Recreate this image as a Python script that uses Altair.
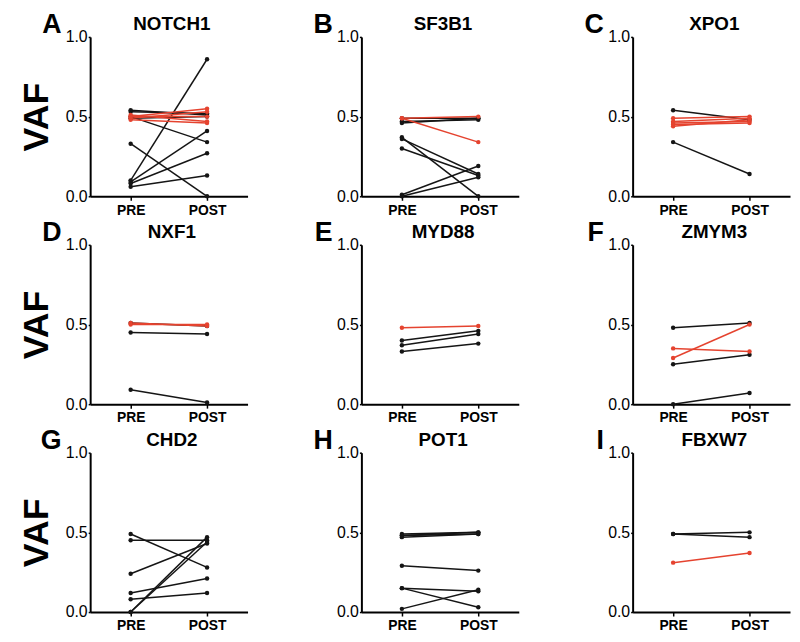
import altair as alt
import pandas as pd

# ---------------- data ----------------
genes = ["NOTCH1", "SF3B1", "XPO1", "NXF1", "MYD88", "ZMYM3", "CHD2", "POT1", "FBXW7"]
letters = ["A", "B", "C", "D", "E", "F", "G", "H", "I"]
timepoints = ["PRE", "POST"]

notch1_pre = [0.54, 0.53, 0.50, 0.49, 0.33, 0.10, 0.09, 0.08, 0.06, 0.50, 0.49, 0.51, 0.48, 0.50]
notch1_post = [0.51, 0.52, 0.34, 0.50, 0.00, 0.86, 0.41, 0.27, 0.13, 0.55, 0.53, 0.47, 0.46, 0.50]
notch1_red = [0, 0, 0, 0, 0, 0, 0, 0, 0, 1, 1, 1, 1, 1]

sf3b1_pre = [0.49, 0.47, 0.46, 0.37, 0.36, 0.30, 0.01, 0.00, 0.49, 0.49]
sf3b1_post = [0.49, 0.48, 0.49, 0.00, 0.14, 0.13, 0.19, 0.12, 0.34, 0.50]
sf3b1_red = [0, 0, 0, 0, 0, 0, 0, 0, 1, 1]

xpo1_pre = [0.54, 0.34, 0.49, 0.47, 0.46, 0.45, 0.44]
xpo1_post = [0.48, 0.14, 0.50, 0.49, 0.47, 0.46, 0.48]
xpo1_red = [0, 0, 1, 1, 1, 1, 1]

nxf1_pre = [0.51, 0.45, 0.09, 0.51, 0.50]
nxf1_post = [0.49, 0.44, 0.01, 0.49, 0.50]
nxf1_red = [0, 0, 0, 1, 1]

myd88_pre = [0.40, 0.37, 0.33, 0.48]
myd88_post = [0.46, 0.44, 0.38, 0.49]
myd88_red = [0, 0, 0, 1]

zmym3_pre = [0.48, 0.25, 0.00, 0.35, 0.29]
zmym3_post = [0.51, 0.31, 0.07, 0.33, 0.50]
zmym3_red = [0, 0, 0, 1, 1]

chd2_pre = [0.49, 0.45, 0.24, 0.12, 0.08, 0.00, 0.00]
chd2_post = [0.28, 0.45, 0.43, 0.21, 0.12, 0.47, 0.44]
chd2_red = [0, 0, 0, 0, 0, 0, 0]

pot1_pre = [0.49, 0.48, 0.47, 0.48, 0.29, 0.15, 0.15, 0.02]
pot1_post = [0.50, 0.49, 0.49, 0.50, 0.26, 0.03, 0.13, 0.14]
pot1_red = [0, 0, 0, 0, 0, 0, 0, 0]

fbxw7_pre = [0.49, 0.49, 0.31]
fbxw7_post = [0.50, 0.47, 0.37]
fbxw7_red = [0, 0, 1]

pre_values = [notch1_pre, sf3b1_pre, xpo1_pre, nxf1_pre, myd88_pre, zmym3_pre, chd2_pre, pot1_pre, fbxw7_pre]
post_values = [notch1_post, sf3b1_post, xpo1_post, nxf1_post, myd88_post, zmym3_post, chd2_post, pot1_post, fbxw7_post]
red_flags = [notch1_red, sf3b1_red, xpo1_red, nxf1_red, myd88_red, zmym3_red, chd2_red, pot1_red, fbxw7_red]

BLACK = "#151515"
RED = "#e5432f"
FONT = "Liberation Sans"
W, H = 159, 161


def panel(idx):
    rows = []
    for i, (a, b, r) in enumerate(zip(pre_values[idx], post_values[idx], red_flags[idx])):
        c = "red" if r else "black"
        rows.append(dict(line=i, time="PRE", vaf=a, col=c, ordr=r))
        rows.append(dict(line=i, time="POST", vaf=b, col=c, ordr=r))
    df = pd.DataFrame(rows)
    first_col = idx % 3 == 0
    x = alt.X("time:N", sort=timepoints,
              scale=alt.Scale(domain=timepoints, padding=0.53),
              axis=alt.Axis(title=None, labelAngle=0, labelFontWeight="bold",
                            labelFontSize=14, labelPadding=3, tickSize=4))
    yaxis_kw = dict(values=[0, 0.5, 1.0], format=".1f", labelFontSize=16,
                    labelPadding=1, tickSize=2)
    if first_col:
        yaxis_kw.update(title="VAF", titleFontSize=36, titleFontWeight="bold",
                        titlePadding=10, titleFont=FONT, titleColor="black")
    else:
        yaxis_kw.update(title=None)
    y = alt.Y("vaf:Q", scale=alt.Scale(domain=[0, 1]), axis=alt.Axis(**yaxis_kw))
    color = alt.Color("col:N", scale=alt.Scale(domain=["black", "red"], range=[BLACK, RED]), legend=None)
    base = alt.Chart(df).encode(x=x, y=y, color=color, detail="line:N",
                                order=alt.Order("ordr:Q"))
    lines = base.mark_line(strokeWidth=1.5)
    pts = base.mark_circle(size=20, opacity=1)
    labels = pd.DataFrame({"t": [letters[idx]], "g": [genes[idx]]})
    letter = alt.Chart(labels).mark_text(
        align="right", baseline="alphabetic", fontSize=27, fontWeight="bold",
        font=FONT, color="black"
    ).encode(text="t:N", x=alt.value(-29), y=alt.value(-4))
    gene = alt.Chart(labels).mark_text(
        align="center", baseline="alphabetic", fontSize=19, fontWeight="bold",
        font=FONT, color="black"
    ).encode(text="g:N", x=alt.value(W / 2 + 3), y=alt.value(-7))
    return alt.layer(lines, pts, letter, gene).properties(width=W, height=H)


chart = alt.concat(*[panel(i) for i in range(9)], columns=3,
                   spacing={"row": 49, "column": 115}, bounds="flush").properties(
    padding={"left": 10, "top": 0, "right": 2, "bottom": 2}
).configure_view(stroke=None).configure_axis(
    grid=False, domainColor="black", domainWidth=2, tickColor="black", tickWidth=1.5,
    labelFont=FONT, labelColor="black"
)

chart.save("out.html", embed_options={"renderer": "svg", "actions": False})
